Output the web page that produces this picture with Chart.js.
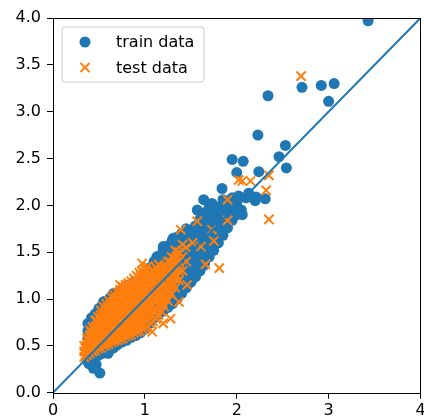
<!DOCTYPE html>
<html>
<head>
<meta charset="utf-8">
<script src="https://cdn.jsdelivr.net/npm/chart.js@4"></script>
<style>
  html, body { margin: 0; background: #fff; overflow: hidden; }
  canvas { display: block; }
</style>
</head>
<body>
<!-- a few px wider than the window: the last x label is cut by the edge, as in the picture -->
<canvas id="plot" width="429" height="419"></canvas>
<script>
// values (x = true, y = predicted)
// dense part of the clouds: one x with the y values stacked above it
var trainCols = [
  [0.38, [0.34,0.42,0.50,0.58,0.66,0.74]],
  [0.42, [0.36,0.45,0.54,0.63,0.72,0.80]],
  [0.46, [0.38,0.47,0.56,0.65,0.74,0.84]],
  [0.50, [0.40,0.50,0.60,0.70,0.80,0.90]],
  [0.54, [0.42,0.52,0.62,0.72,0.83,0.94]],
  [0.58, [0.44,0.55,0.65,0.76,0.87,0.98]],
  [0.62, [0.46,0.57,0.68,0.79,0.90,1.01]],
  [0.66, [0.48,0.59,0.70,0.82,0.93,1.05]],
  [0.70, [0.51,0.62,0.73,0.85,0.96,1.07]],
  [0.75, [0.54,0.65,0.77,0.89,1.00,1.10]],
  [0.80, [0.56,0.68,0.80,0.92,1.03,1.13]],
  [0.85, [0.59,0.71,0.83,0.95,1.06,1.16]],
  [0.90, [0.61,0.74,0.86,0.98,1.09,1.19]],
  [0.95, [0.64,0.77,0.90,1.02,1.13,1.23]],
  [1.00, [0.68,0.80,0.93,1.05,1.17,1.28]],
  [1.05, [0.74,0.86,0.98,1.10,1.22,1.33]],
  [1.10, [0.80,0.91,1.03,1.15,1.27,1.40]],
  [1.15, [0.84,0.96,1.08,1.20,1.32,1.46]],
  [1.20, [0.87,1.00,1.13,1.26,1.39,1.53]],
  [1.25, [0.91,1.04,1.18,1.31,1.45,1.57]],
  [1.30, [0.95,1.09,1.23,1.37,1.51,1.63]],
  [1.35, [1.00,1.14,1.28,1.42,1.56,1.66]],
  [1.40, [1.06,1.20,1.34,1.48,1.60,1.70]],
  [1.45, [1.12,1.26,1.40,1.53,1.66,1.75]],
  [1.50, [1.18,1.31,1.45,1.58,1.72]],
  [1.55, [1.24,1.37,1.50,1.63,1.78]],
  [1.60, [1.30,1.43,1.56,1.70,1.85]],
  [1.65, [1.38,1.51,1.64,1.77,1.92]],
  [1.70, [1.45,1.58,1.71,1.84,1.98]],
  [1.75, [1.52,1.65,1.78,1.90]],
  [1.80, [1.60,1.73,1.86,1.98]],
  [1.85, [1.68,1.80,1.93,2.06]],
  [1.90, [1.76,1.88,2.00]],
  [1.95, [1.84,1.96,2.08]],
  [2.00, [1.90,2.02]],
  [2.05, [1.95]]
];

// scattered train points
var trainPoints = [
  [0.39,0.31],[0.51,0.21],[0.47,0.30],[0.44,0.26],[0.55,0.46],[0.60,0.42],[0.66,1.06],[0.55,0.97],
  [0.88,1.18],[1.13,1.45],[1.20,1.56],[1.31,1.65],[1.36,1.02],[1.44,1.26],[1.50,1.18],[1.55,1.24],
  [1.64,1.36],[1.57,1.95],[1.64,2.06],[1.73,2.02],[1.73,1.54],[1.84,2.18],[1.95,2.49],[2.00,2.35],
  [2.02,2.10],[2.06,1.90],[2.07,2.47],[2.10,2.08],[2.13,2.13],[2.20,2.05],[2.21,2.09],[2.24,2.36],
  [2.23,2.75],[2.31,2.07],[2.34,3.17],[2.46,2.52],[2.53,2.64],[2.54,2.40],[2.71,3.26],[2.92,3.28],
  [3.00,3.11],[3.06,3.30],[3.43,3.97]
];

var testCols = [
  [0.34, [0.38,0.44,0.50]],
  [0.355, [0.41,0.47]],
  [0.37, [0.40,0.46,0.52,0.58]],
  [0.385, [0.43,0.49,0.55]],
  [0.40, [0.42,0.48,0.55,0.61,0.67]],
  [0.415, [0.45,0.52,0.58,0.64]],
  [0.43, [0.44,0.50,0.57,0.63,0.70]],
  [0.445, [0.47,0.54,0.60,0.67]],
  [0.46, [0.45,0.52,0.58,0.65,0.71,0.77]],
  [0.475, [0.50,0.57,0.63,0.70,0.77]],
  [0.49, [0.47,0.54,0.60,0.67,0.74,0.81]],
  [0.505, [0.51,0.58,0.65,0.72,0.79]],
  [0.52, [0.48,0.55,0.62,0.69,0.76,0.83,0.88]],
  [0.535, [0.52,0.59,0.66,0.73,0.80,0.86]],
  [0.55, [0.50,0.57,0.64,0.71,0.78,0.85,0.92]],
  [0.565, [0.54,0.61,0.68,0.75,0.82,0.89]],
  [0.58, [0.51,0.58,0.66,0.73,0.80,0.87,0.95]],
  [0.595, [0.55,0.62,0.70,0.77,0.84,0.91]],
  [0.61, [0.52,0.60,0.67,0.75,0.82,0.90,0.98]],
  [0.625, [0.57,0.64,0.71,0.79,0.86,0.94]],
  [0.64, [0.54,0.61,0.69,0.77,0.85,0.93,1.02]],
  [0.655, [0.58,0.66,0.73,0.81,0.89,0.97]],
  [0.67, [0.55,0.63,0.71,0.79,0.87,0.95,1.04]],
  [0.685, [0.60,0.68,0.76,0.84,0.92,1.00]],
  [0.70, [0.56,0.64,0.72,0.81,0.89,0.98,1.07]],
  [0.715, [0.61,0.69,0.78,0.86,0.95,1.03]],
  [0.73, [0.57,0.66,0.74,0.83,0.92,1.00,1.10]],
  [0.745, [0.62,0.71,0.80,0.88,0.97,1.06]],
  [0.76, [0.58,0.67,0.76,0.85,0.94,1.03,1.13]],
  [0.775, [0.64,0.73,0.82,0.91,1.00,1.09]],
  [0.79, [0.60,0.69,0.78,0.87,0.96,1.05,1.15]],
  [0.805, [0.65,0.75,0.84,0.93,1.03,1.12]],
  [0.82, [0.61,0.70,0.80,0.89,0.98,1.08,1.17]],
  [0.835, [0.67,0.77,0.86,0.96,1.05,1.14]],
  [0.85, [0.62,0.72,0.82,0.91,1.01,1.10,1.19]],
  [0.865, [0.68,0.78,0.88,0.98,1.08,1.17]],
  [0.88, [0.64,0.74,0.84,0.94,1.03,1.13,1.22]],
  [0.895, [0.70,0.80,0.90,1.00,1.10,1.20]],
  [0.91, [0.65,0.75,0.86,0.96,1.06,1.15,1.25]],
  [0.925, [0.71,0.82,0.92,1.03,1.13,1.23]],
  [0.94, [0.66,0.77,0.88,0.98,1.08,1.18,1.28]],
  [0.955, [0.73,0.84,0.94,1.05,1.15,1.25]],
  [0.97, [0.68,0.79,0.90,1.00,1.10,1.20,1.30]],
  [0.985, [0.75,0.86,0.97,1.07,1.17,1.27]],
  [1.00, [0.69,0.81,0.92,1.03,1.13,1.23,1.32]],
  [1.015, [0.77,0.88,0.99,1.09,1.20,1.30]],
  [1.03, [0.71,0.83,0.94,1.05,1.15,1.26,1.35]],
  [1.045, [0.80,0.91,1.02,1.12,1.23]],
  [1.06, [0.74,0.85,0.96,1.07,1.18,1.28]],
  [1.075, [0.82,0.93,1.04,1.15,1.26]],
  [1.09, [0.76,0.88,0.99,1.10,1.21,1.31]],
  [1.105, [0.85,0.96,1.07,1.18,1.28]],
  [1.12, [0.79,0.90,1.02,1.13,1.24,1.34]],
  [1.135, [0.88,0.99,1.10,1.21,1.31]],
  [1.15, [0.83,0.94,1.05,1.16,1.27,1.37]],
  [1.165, [0.92,1.03,1.14,1.25,1.35]],
  [1.18, [0.87,0.98,1.09,1.20,1.31]],
  [1.195, [0.96,1.07,1.18,1.28]],
  [1.21, [0.92,1.03,1.13,1.24,1.35]],
  [1.23, [1.01,1.12,1.23,1.33]],
  [1.25, [0.98,1.09,1.19,1.29,1.40]],
  [1.27, [1.08,1.19,1.30,1.40]],
  [1.29, [1.05,1.15,1.25,1.35,1.45]],
  [1.31, [1.16,1.27,1.38]],
  [1.33, [1.12,1.22,1.32,1.42,1.52]],
  [1.35, [1.25,1.36,1.46]],
  [1.37, [1.20,1.30,1.40,1.50]],
  [1.41, [1.30,1.45,1.58]],
  [1.45, [1.40,1.55]]
];

var testPoints = [
  [0.73,1.15],[0.78,1.11],[0.97,1.38],[1.08,0.65],[1.20,0.74],[1.28,0.79],[1.37,0.97],[1.39,1.74],
  [1.46,1.15],[1.52,1.60],[1.57,1.83],[1.61,1.56],[1.66,1.37],[1.73,1.74],[1.75,1.62],[1.81,1.33],
  [1.90,2.06],[1.90,1.84],[2.02,2.27],[2.06,2.26],[2.15,2.26],[2.32,2.16],[2.35,2.32],[2.35,1.85],
  [2.70,3.38]
];

var lineX = [0, 4];
var lineY = [0, 4];

var xTicks = [0, 1, 2, 3, 4];
var yTicks = [0, 0.5, 1, 1.5, 2, 2.5, 3, 3.5, 4];

var legendLabels = ['train data', 'test data'];

var blue = '#1f77b4';
var orange = '#ff7f0e';
var font = 'DejaVu Sans';

function toXY(cols, pts) {
  var out = [];
  cols.forEach(function(c) {
    c[1].forEach(function(y) { out.push({ x: c[0], y: y }); });
  });
  pts.forEach(function(p) { out.push({ x: p[0], y: p[1] }); });
  return out;
}

function lineData() {
  return lineX.map(function(x, i) { return { x: x, y: lineY[i] }; });
}

// frame + legend box like matplotlib
var framePlugin = {
  id: 'frame',
  afterDraw: function(chart) {
    var ctx = chart.ctx;
    var a = chart.chartArea;
    ctx.save();
    ctx.strokeStyle = '#000';
    ctx.lineWidth = 1;
    ctx.strokeRect(Math.round(a.left) + 0.5, Math.round(a.top) + 0.5,
      Math.round(a.right - a.left) - 1, Math.round(a.bottom - a.top));

    // legend
    var bx = 62, by = 27, bw = 142, bh = 55, r = 3;
    ctx.beginPath();
    ctx.moveTo(bx + r, by);
    ctx.arcTo(bx + bw, by, bx + bw, by + bh, r);
    ctx.arcTo(bx + bw, by + bh, bx, by + bh, r);
    ctx.arcTo(bx, by + bh, bx, by, r);
    ctx.arcTo(bx, by, bx + bw, by, r);
    ctx.closePath();
    ctx.fillStyle = 'rgba(255,255,255,0.8)';
    ctx.fill();
    ctx.strokeStyle = '#cccccc';
    ctx.stroke();

    ctx.fillStyle = blue;
    ctx.beginPath();
    ctx.arc(85, 42, 5.5, 0, Math.PI * 2);
    ctx.fill();

    ctx.strokeStyle = orange;
    ctx.lineWidth = 2;
    ctx.beginPath();
    ctx.moveTo(80.5, 63); ctx.lineTo(89.5, 72);
    ctx.moveTo(89.5, 63); ctx.lineTo(80.5, 72);
    ctx.stroke();

    ctx.fillStyle = '#000';
    ctx.font = '16px "' + font + '"';
    ctx.textBaseline = 'alphabetic';
    ctx.textAlign = 'left';
    ctx.fillText(legendLabels[0], 116, 47);
    ctx.fillText(legendLabels[1], 116, 72.5);
    ctx.restore();
  }
};

var ctx = document.getElementById('plot');

var chart = new Chart(ctx, {
  type: 'scatter',
  data: {
    datasets: [{
      label: legendLabels[0],
      data: toXY(trainCols, trainPoints),
      pointStyle: 'circle',
      pointRadius: 5.5,
      pointBorderWidth: 0,
      backgroundColor: blue,
      borderColor: blue,
      order: 2
    }, {
      label: legendLabels[1],
      data: toXY(testCols, testPoints),
      pointStyle: 'crossRot',
      pointRadius: 6.5,
      pointBorderWidth: 2,
      backgroundColor: orange,
      borderColor: orange,
      order: 1
    }, {
      label: 'y = x',
      data: lineData(),
      showLine: true,
      pointRadius: 0,
      borderColor: blue,
      borderWidth: 2,
      order: 0
    }]
  },
  options: {
    responsive: false,
    animation: false,
    devicePixelRatio: 1,
    layout: { padding: { top: 18, right: 0, left: 0, bottom: 0 } },
    plugins: {
      legend: { display: false },
      tooltip: { enabled: false }
    },
    scales: {
      x: {
        type: 'linear',
        min: 0,
        max: 4,
        afterBuildTicks: function(scale) {
          scale.ticks = xTicks.map(function(v) { return { value: v }; });
        },
        afterFit: function(scale) { scale.height = 26.3; },
        grid: { drawOnChartArea: false, drawTicks: true, tickLength: 6, color: '#000' },
        border: { display: false },
        ticks: {
          color: '#000',
          padding: 3,
          maxRotation: 0,
          font: { family: font, size: 16 },
          callback: function(v) { return String(v); }
        }
      },
      y: {
        type: 'linear',
        min: 0,
        max: 4,
        afterBuildTicks: function(scale) {
          scale.ticks = yTicks.map(function(v) { return { value: v }; });
        },
        afterFit: function(scale) { scale.width = 53; },
        grid: { drawOnChartArea: false, drawTicks: true, tickLength: 6, color: '#000' },
        border: { display: false },
        ticks: {
          color: '#000',
          padding: 6,
          font: { family: font, size: 16 },
          callback: function(v) { return v.toFixed(1); }
        }
      }
    }
  },
  plugins: [framePlugin]
});
</script>
</body>
</html>
